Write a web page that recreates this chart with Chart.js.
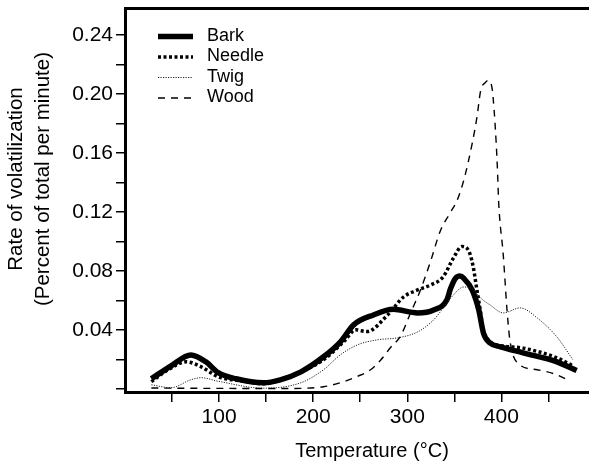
<!DOCTYPE html>
<html>
<head>
<meta charset="utf-8">
<script src="https://cdn.jsdelivr.net/npm/chart.js@4.4.0/dist/chart.umd.min.js"></script>
<style>
  html, body { margin: 0; padding: 0; background: #fff; overflow: hidden; }
  #wrap { width: 620px; height: 472px; }
</style>
</head>
<body>
<div id="wrap"><canvas id="chart" width="620" height="472"></canvas></div>
<script>
// Rate of volatilization (percent of total per minute) against temperature (°C)
const barkTemp = [28, 49, 70, 86, 99, 118, 147, 165, 187, 211, 229, 243, 264, 285, 311, 328, 342, 346, 351, 356, 360, 369, 376, 381, 388, 399, 423, 459, 480];
const barkRate = [0.0068, 0.0156, 0.0230, 0.0183, 0.0109, 0.0068, 0.0041, 0.0061, 0.0115, 0.0217, 0.0319, 0.0434, 0.0501, 0.0539, 0.0515, 0.0535, 0.0603, 0.0680, 0.0748, 0.0765, 0.0750, 0.0670, 0.0535, 0.0377, 0.0310, 0.0285, 0.0244, 0.0183, 0.0124];

const needleTemp = [28, 46, 65, 81, 99, 123, 147, 176, 211, 234, 245, 257, 279, 296, 311, 325, 338, 349, 358, 365, 370, 374, 378, 381, 402, 423, 459, 476];
const needleRate = [0.0048, 0.0129, 0.0183, 0.0149, 0.0082, 0.0054, 0.0034, 0.0088, 0.0197, 0.0330, 0.0400, 0.0388, 0.0500, 0.0623, 0.0671, 0.0705, 0.0759, 0.0887, 0.0966, 0.0940, 0.0830, 0.0670, 0.0515, 0.0380, 0.0290, 0.0276, 0.0210, 0.0156];

const twigTemp = [28, 49, 70, 81, 99, 147, 187, 211, 229, 247, 268, 290, 311, 328, 349, 360, 369, 378, 388, 402, 420, 438, 459, 476];
const twigRate = [0.0027, 0.0007, 0.0061, 0.0075, 0.0051, 0.0004, 0.0041, 0.0129, 0.0231, 0.0298, 0.0332, 0.0346, 0.0386, 0.0468, 0.0637, 0.0691, 0.0680, 0.0616, 0.0569, 0.0515, 0.0549, 0.0481, 0.0352, 0.0197];

const woodTemp = [28, 81, 147, 176, 211, 229, 247, 261, 272, 282, 293, 303, 314, 325, 335, 346, 353, 360, 369, 374, 378, 383, 386, 390, 392.3, 394.5, 396, 397, 402, 406, 409, 417, 438, 459, 473];
const woodRate = [0.0005, 0.0003, 0.0002, 0.0002, 0.0014, 0.0041, 0.0084, 0.0129, 0.0197, 0.0278, 0.0360, 0.0508, 0.0671, 0.0870, 0.1070, 0.1199, 0.1280, 0.1415, 0.1666, 0.1842, 0.2025, 0.2079, 0.2093, 0.2045, 0.1890, 0.1666, 0.1460, 0.1280, 0.0908, 0.0535, 0.0332, 0.0176, 0.0129, 0.0095, 0.0050];

const xTickLabels = [100, 200, 300, 400];
const yTickLabels = [0.04, 0.08, 0.12, 0.16, 0.20, 0.24];

const FONT = '"Liberation Sans", Arial, Helvetica, sans-serif';
Chart.defaults.font.family = FONT;
Chart.defaults.color = '#000';

const toPoints = (temps, rates) => temps.map((t, i) => ({ x: t, y: rates[i] }));

// legend drawn inside the plot, top left
const plotLegend = {
    id: 'plotLegend',
    afterDraw(chart) {
        const ctx = chart.ctx;
        const left = chart.chartArea.left + 33;
        let y = chart.chartArea.top + 28.5;
        ctx.save();
        ctx.font = '18px ' + FONT;
        ctx.textBaseline = 'middle';
        ctx.fillStyle = '#000';
        chart.data.datasets.forEach(ds => {
            ctx.beginPath();
            ctx.lineWidth = ds.borderWidth;
            ctx.strokeStyle = ds.borderColor;
            ctx.setLineDash(ds.borderDash || []);
            ctx.moveTo(left, y);
            ctx.lineTo(left + 35, y);
            ctx.stroke();
            ctx.setLineDash([]);
            ctx.fillText(ds.label, left + 49, y - 0.5);
            y += 20.5;
        });
        ctx.restore();
    }
};

// two-line title beside the y axis
const yAxisTitle = {
    id: 'yAxisTitle',
    afterDraw(chart) {
        const ctx = chart.ctx;
        ctx.save();
        ctx.translate(0, 179);
        ctx.rotate(-Math.PI / 2);
        ctx.font = '20.5px ' + FONT;
        ctx.textAlign = 'center';
        ctx.textBaseline = 'middle';
        ctx.fillStyle = '#000';
        ctx.fillText('Rate of volatilization', 0, 16);
        ctx.fillText('(Percent of total per minute)', 0, 43);
        ctx.restore();
    }
};

const common = { pointRadius: 0, fill: false, cubicInterpolationMode: 'monotone', borderCapStyle: 'butt' };

new Chart(document.getElementById('chart'), {
    type: 'line',
    data: {
        datasets: [
            { ...common, label: 'Bark', data: toPoints(barkTemp, barkRate), borderColor: '#000', borderWidth: 5.5, order: 4 },
            { ...common, label: 'Needle', data: toPoints(needleTemp, needleRate), borderColor: '#000', borderWidth: 3.5, borderDash: [3, 2.5], order: 3 },
            { ...common, label: 'Twig', data: toPoints(twigTemp, twigRate), borderColor: '#222', borderWidth: 1, borderDash: [1.2, 1.3], order: 2 },
            { ...common, label: 'Wood', data: toPoints(woodTemp, woodRate), borderColor: '#000', borderWidth: 1.4, borderDash: [7, 6], order: 1 }
        ]
    },
    options: {
        responsive: false,
        animation: false,
        devicePixelRatio: 1,
        layout: { padding: { top: 8, right: 1, left: 0, bottom: 0 } },
        plugins: { legend: { display: false }, tooltip: { enabled: false } },
        scales: {
            x: {
                type: 'linear',
                min: 0,
                max: 525,
                afterFit: s => { s.height = 80; s.paddingLeft = 0; s.paddingRight = 0; },
                border: { display: true, color: '#000', width: 3 },
                grid: {
                    drawOnChartArea: false,
                    tickLength: 10,
                    lineWidth: 1.5,
                    color: c => (c.tick && c.tick.value === 0) ? 'rgba(0,0,0,0)' : '#000'
                },
                ticks: {
                    stepSize: 50,
                    includeBounds: false,
                    autoSkip: false,
                    maxRotation: 0,
                    padding: 3,
                    font: { size: 21 },
                    callback: v => xTickLabels.includes(v) ? String(v) : ''
                },
                title: {
                    display: true,
                    text: 'Temperature (°C)',
                    font: { size: 20 },
                    padding: { top: 0, bottom: 9 }
                }
            },
            frameTop: {
                type: 'linear',
                position: 'top',
                afterFit: s => { s.height = 0; },
                grid: { display: false },
                ticks: { display: false },
                border: { display: true, color: '#000', width: 3 }
            },
            y: {
                min: -0.0022,
                max: 0.2585,
                afterFit: s => { s.width = 125; s.paddingTop = 0; s.paddingBottom = 0; },
                border: { display: true, color: '#000', width: 3 },
                grid: { drawOnChartArea: false, tickLength: 9, lineWidth: 1.5, color: '#000' },
                ticks: {
                    stepSize: 0.02,
                    includeBounds: false,
                    autoSkip: false,
                    padding: 3,
                    font: { size: 21 },
                    callback: v => yTickLabels.some(t => Math.abs(t - v) < 1e-6) ? v.toFixed(2) : ''
                }
            }
        }
    },
    plugins: [plotLegend, yAxisTitle]
});
</script>
</body>
</html>
